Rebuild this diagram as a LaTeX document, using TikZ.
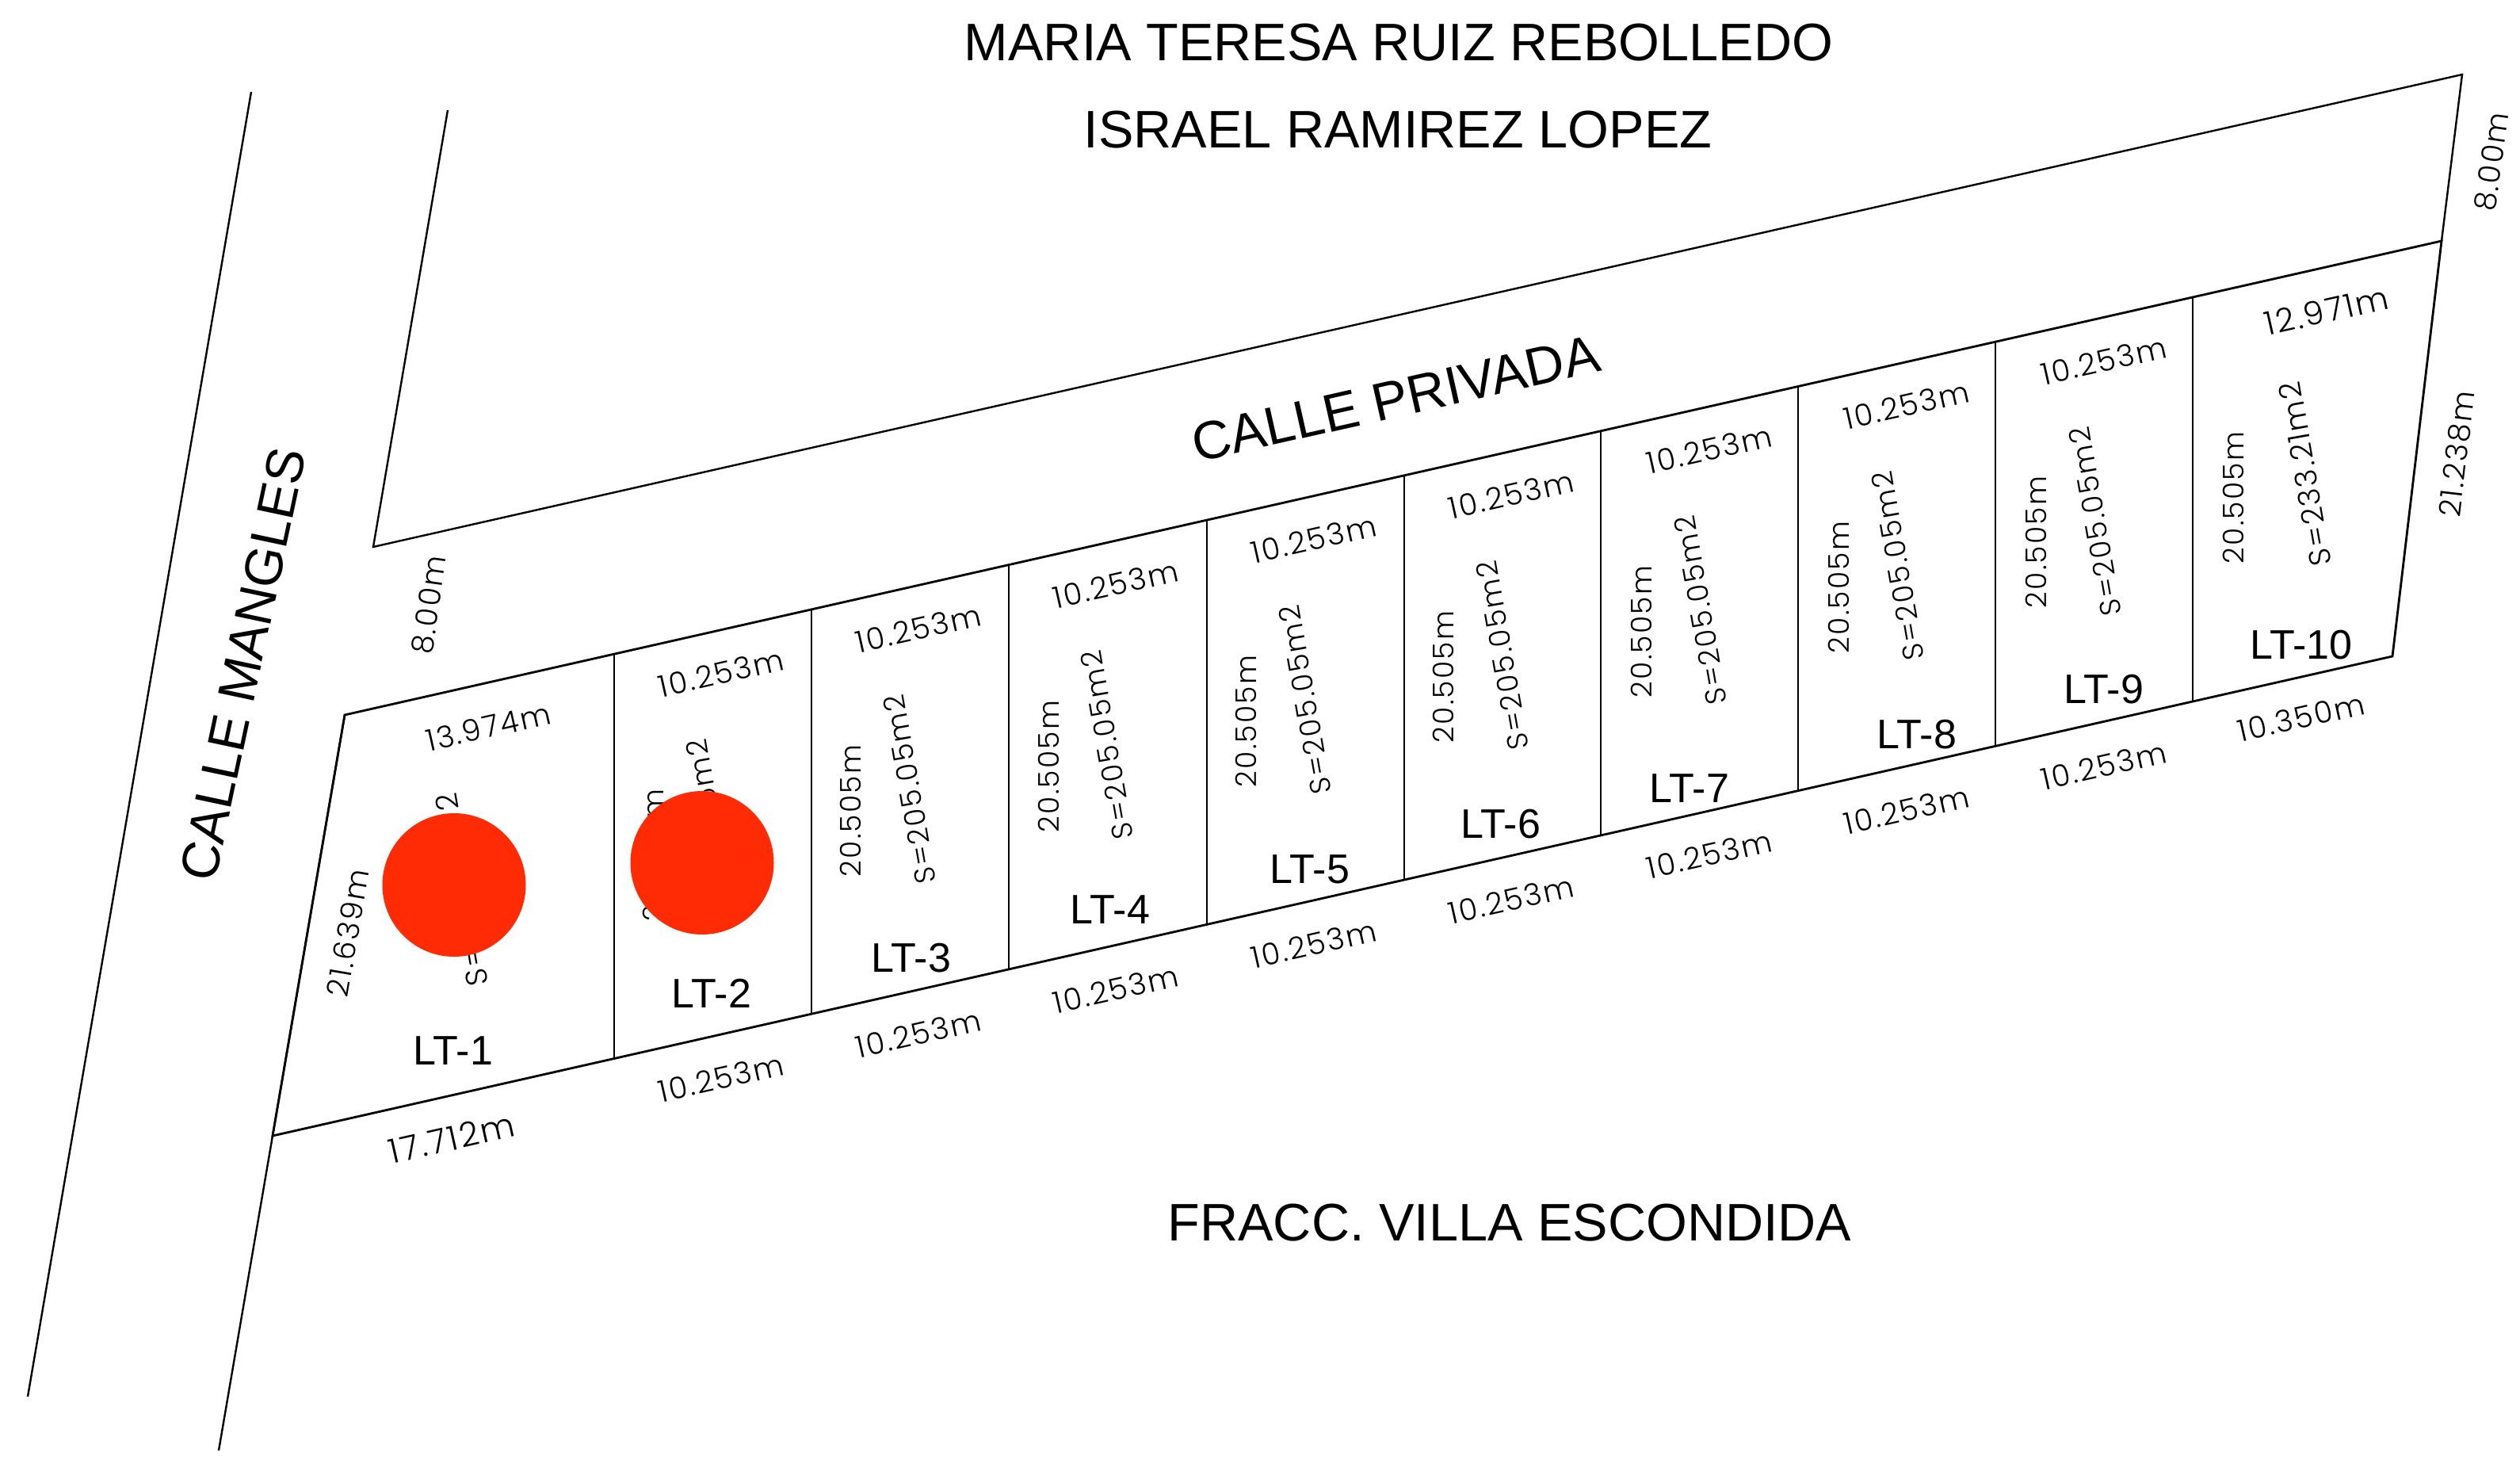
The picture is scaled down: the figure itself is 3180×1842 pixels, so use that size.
\documentclass[tikz,border=0pt]{standalone}
\usepackage{fontspec}
\setmainfont{Liberation Sans}
\newfontfamily\dimfont[UprightFont={* Light},LetterSpace=6]{Poppins}
\definecolor{dotred}{HTML}{FF2B05}
\tikzset{
  bigtext/.style={inner sep=0pt,font=\fontsize{18.95pt}{20pt}\selectfont},
  lotname/.style={inner sep=0pt,font=\fontsize{14.8pt}{16pt}\selectfont},
  dimtext/.style={inner sep=0pt,font=\dimfont\fontsize{10.8pt}{12pt}\selectfont},
  boundary/.style={line width=0.8pt,line join=miter},
  streetline/.style={line width=0.68pt}
}
\begin{document}
\begin{tikzpicture}[x=0.01cm,y=-0.01cm]
\useasboundingbox (0,0) rectangle (3180,1842);
% corners
\coordinate (MLtop) at (317,116);
\coordinate (MLbot) at (35,1762);
\coordinate (MRbot) at (276,1830);
\coordinate (A) at (344,1433);
\coordinate (B) at (435,902);
\coordinate (RTL) at (565,139);
\coordinate (RBL) at (471,690);
\coordinate (RTR) at (3107,94);
\coordinate (C) at (3081,304);
\coordinate (D) at (3019,828);
% street edges
\draw[streetline] (MLtop) -- (MLbot);
\draw[streetline] (B) -- (A) -- (MRbot);
\draw[streetline] (RTL) -- (RBL) -- (RTR) -- (C);
% lots
\draw[boundary] (A) -- (D) -- (C) -- (B) -- cycle;
\foreach \n/\xx/\tp/\bt in {a/775/825.2/1335.5,b/1024/768.9/1279.2,c/1273/712.6/1222.9,d/1523/656.1/1166.3,e/1772/599.8/1110,f/2020/543.8/1053.9,g/2269/487.5/997.6,h/2518/431.2/941.2,i/2767/375/885}{
  \coordinate (t\n) at (\xx,\tp);
  \coordinate (b\n) at (\xx,\bt);
  \draw[boundary] (t\n) -- (b\n);
}
% titles
\node[bigtext] (owner1) at (1765,54) {MARIA TERESA RUIZ REBOLLEDO};
\node[bigtext] (owner2) at (1764,164) {ISRAEL RAMIREZ LOPEZ};
\node[bigtext] (fracc) at (1905,1543) {FRACC. VILLA ESCONDIDA};
\node[bigtext,rotate=12.7,scale=1.015] (privada) at (1761,503) {CALLE PRIVADA};
\node[bigtext,rotate=78] (mangles) at (307,838) {CALLE MANGLES};
% lot names
\foreach \n/\xx/\yy in {1/572/1326,2/898/1253,3/1150/1209,4/1401/1148,5/1653/1097,6/1894/1040,7/2132/995,8/2419/927,9/2655/870,10/2904/814}{
  \node[lotname] (lot\n) at (\xx,\yy) {LT-\n};
}
% top frontage dimensions
\foreach \n/\xx/\yy in {2/910/849,3/1159/793,4/1408/737,5/1658/680,6/1907/624,7/2157/567,8/2406/511,9/2655/455}{
  \node[dimtext,rotate=12.7] (topdim\n) at (\xx,\yy) {10.253m};
}
\node[dimtext,rotate=12.7] (topdim1) at (616,917) {13.974m};
\node[dimtext,rotate=12.7,scale=1.08] (topdim10) at (2936,392) {12.971m};
% bottom frontage dimensions
\foreach \n/\xx/\yy in {2/910/1360,3/1159/1304,4/1408/1248,5/1658/1191,6/1907/1135,7/2157/1078,8/2406/1022,9/2655/966}{
  \node[dimtext,rotate=12.7] (botdim\n) at (\xx,\yy) {10.253m};
}
\node[dimtext,rotate=12.7,scale=1.12] (botdim1) at (570,1436) {17.712m};
\node[dimtext,rotate=12.7] (botdim10) at (2904,905) {10.350m};
% depth dimensions
\foreach \n/\xx/\yy in {2/824/1079,3/1073/1023,4/1323/967,5/1572/910,6/1821/854,7/2071/797,8/2320/741,9/2569/684,10/2818/628}{
  \node[dimtext,rotate=90,scale=0.95] (depth\n) at (\xx,\yy) {20.505m};
}
\node[dimtext,rotate=80.3] (side1) at (439,1177) {21.639m};
\node[dimtext,rotate=83.3] (side10) at (3100,573) {21.238m};
\node[dimtext,rotate=82] (road1) at (541,763) {8.00m};
\node[dimtext,rotate=82] (road2) at (3144,204) {8.00m};
% areas
\node[dimtext,rotate=100] (area1a) at (599,1219) {S=};
\node[dimtext,rotate=100] (area1b) at (564,1012) {2};
\foreach \n/\xx/\yy in {2/899/1052,3/1148/996,4/1397/940,5/1647/883,6/1896/827,7/2146/770,8/2395/714,9/2644/658}{
  \node[dimtext,rotate=100,scale=0.96] (area\n) at (\xx,\yy) {S=205.05m2};
}
\node[dimtext,rotate=100] (area10) at (2909,598) {S=233.21m2};
% red discs
\fill[dotred] (573,1116.5) circle[radius=90.5];
\fill[dotred] (886,1088.5) circle[radius=90.5];
\end{tikzpicture}
\end{document}
